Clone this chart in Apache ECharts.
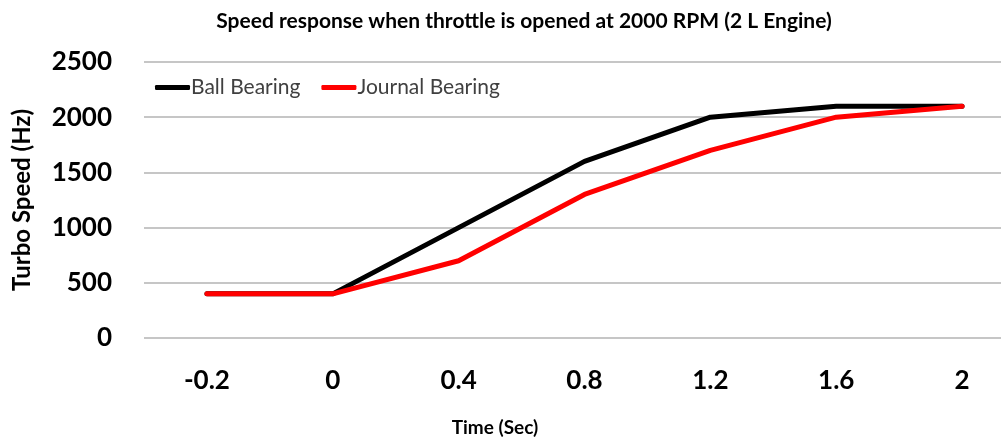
<!DOCTYPE html>
<html><head><meta charset="utf-8">
<script src="https://cdn.jsdelivr.net/npm/echarts@6/dist/echarts.min.js"></script>
<style>html,body{margin:0;padding:0;background:#fff}#c{width:1001px;height:442px}</style>
</head><body><div id="c"></div>
<script>
var categories = ['-0.2','0','0.4','0.8','1.2','1.6','2'];
var ballBearing = [400, 400, 1000, 1600, 2000, 2100, 2100];
var journalBearing = [400, 400, 700, 1300, 1700, 2000, 2100];
var yTicks = {min: 0, max: 2500, interval: 500};

var chart = echarts.init(document.getElementById('c'), null, {renderer: 'canvas'});
chart.setOption({
  animation: false,
  backgroundColor: '#fff',
  title: {
    text: 'Speed response when throttle is opened at 2000 RPM (2 L Engine)',
    left: 519, top: 6, textAlign: 'center',
    textStyle: {fontFamily: 'Lato', fontWeight: 'bold', fontSize: 21, color: '#000'}
  },
  legend: {
    left: 150, top: 72, itemWidth: 35, itemHeight: 5, itemGap: 21,
    textStyle: {fontFamily: 'Lato', fontSize: 21, color: '#404040', padding: [0,0,0,-4]},
    data: [
      {name: 'Ball Bearing', icon: 'roundRect'},
      {name: 'Journal Bearing', icon: 'roundRect'}
    ]
  },
  grid: {left: 144, right: -24, top: 62, bottom: 104, containLabel: false, outerBoundsMode: 'none'},
  xAxis: {
    type: 'category', data: categories, boundaryGap: true,
    axisLine: {show: false}, axisTick: {show: false},
    axisLabel: {margin: 30, fontFamily: 'Lato', fontWeight: 'bold', fontSize: 26, color: '#000'},
    name: 'Time (Sec)', nameLocation: 'middle', nameGap: 80,
    nameTextStyle: {fontFamily: 'Lato', fontWeight: 'bold', fontSize: 19, color: '#000', padding: [0, 0, 0, -179]}
  },
  yAxis: {
    type: 'value', min: yTicks.min, max: yTicks.max, interval: yTicks.interval,
    axisLine: {show: false}, axisTick: {show: false},
    splitLine: {lineStyle: {color: '#b3b3b3', width: 1.5}},
    axisLabel: {margin: 32, fontFamily: 'Lato', fontWeight: 'bold', fontSize: 26, color: '#000',
                formatter: function (v) { return String(v); }},
    name: 'Turbo Speed (Hz)', nameLocation: 'middle', nameGap: 110, nameRotate: 90,
    nameTextStyle: {fontFamily: 'Lato', fontWeight: 'bold', fontSize: 24, color: '#000'}
  },
  series: [
    {name: 'Ball Bearing', type: 'line', data: ballBearing, symbol: 'none',
     lineStyle: {color: '#000', width: 5, cap: 'round', join: 'round'}, itemStyle: {color: '#000'}},
    {name: 'Journal Bearing', type: 'line', data: journalBearing, symbol: 'none',
     lineStyle: {color: '#ff0000', width: 5, cap: 'round', join: 'round'}, itemStyle: {color: '#ff0000'}}
  ]
});
</script></body></html>
